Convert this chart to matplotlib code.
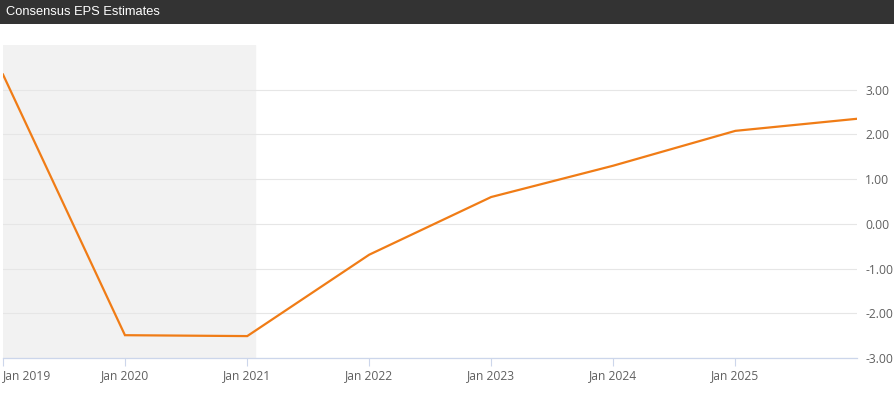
import matplotlib
matplotlib.use("Agg")
import matplotlib.pyplot as plt
import matplotlib.dates as mdates
from matplotlib.ticker import FixedLocator, FuncFormatter
import numpy as np
import datetime as dt

# consensus EPS by fiscal period
periods = [dt.date(2019, 1, 1), dt.date(2020, 1, 1), dt.date(2021, 1, 1),
           dt.date(2022, 1, 1), dt.date(2023, 1, 1), dt.date(2024, 1, 1),
           dt.date(2025, 1, 1), dt.date(2025, 12, 31)]
eps = [3.34, -2.49, -2.51, -0.69, 0.60, 1.30, 2.08, 2.35]
tick_years = [2019, 2020, 2021, 2022, 2023, 2024, 2025]
y_ticks = [-3, -2, -1, 0, 1, 2, 3]
actual_end = dt.date(2021, 1, 25)

W, H = 894, 405
fig = plt.figure(figsize=(W / 100, H / 100), dpi=100)

# title bar
bar = fig.add_axes([0, 1 - 24 / H, 1, 24 / H])
bar.set_facecolor("#333333")
bar.set_xticks([]); bar.set_yticks([])
for s in bar.spines.values():
    s.set_visible(False)
bar.text(6 / W, 0.5, "Consensus EPS Estimates", transform=bar.transAxes,
         color="white", fontsize=9.3, family="Liberation Sans", va="center", ha="left")

ax = fig.add_axes([3 / W, 47 / H, 854 / W, 313 / H])
x = mdates.date2num(periods)
ax.set_xlim(mdates.date2num(dt.date(2019, 1, 1)), mdates.date2num(dt.date(2025, 12, 31)))
ax.set_ylim(-3, 4.0)

ax.axvspan(ax.get_xlim()[0], mdates.date2num(actual_end), color="#f2f2f2", zorder=0)
ax.plot(x, eps, color="#f07c16", lw=1.6, zorder=3, solid_joinstyle="miter")

ax.yaxis.tick_right()
ax.yaxis.set_major_locator(FixedLocator(y_ticks))
ax.yaxis.set_major_formatter(FuncFormatter(lambda v, p: "%.2f" % v))
ax.grid(axis="y", color="#e6e6e6", lw=0.8, zorder=1)
ax.tick_params(axis="y", length=0, pad=6, labelsize=8.7, labelcolor="#606060")

xt = [mdates.date2num(dt.date(y, 1, 1)) for y in tick_years]
ax.set_xticks(xt)
ax.set_xticklabels(["Jan %d" % y for y in tick_years])
ax.tick_params(axis="x", length=6, width=0.8, color="#ccd6eb", pad=2,
               labelsize=8.7, labelcolor="#606060")
ax.get_xticklabels()[0].set_ha("left")

for name in ["top", "left", "right"]:
    ax.spines[name].set_visible(False)
ax.spines["bottom"].set_color("#ccd6eb")
ax.spines["bottom"].set_linewidth(0.9)
ax.set_facecolor("white")

for lab in ax.get_xticklabels() + ax.get_yticklabels():
    lab.set_family("Open Sans")

fig.savefig("out.png", dpi=100)
